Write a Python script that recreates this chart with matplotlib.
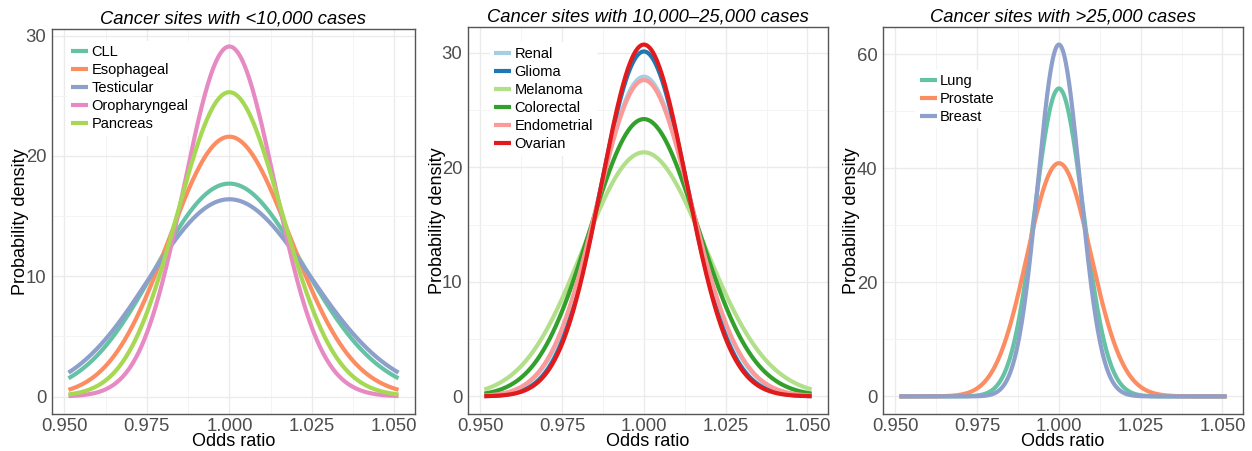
import numpy as np
import matplotlib.pyplot as plt
from matplotlib.ticker import MultipleLocator

plt.rcParams['font.family'] = ['Liberation Sans', 'DejaVu Sans']

# peak probability density of each site (density of log odds ratio, centred on OR = 1)
sites_small = ["CLL", "Esophageal", "Testicular", "Oropharyngeal", "Pancreas"]
peaks_small = [17.7, 21.6, 16.4, 29.1, 25.3]
colors_small = ["#66C2A5", "#FC8D62", "#8DA0CB", "#E78AC3", "#A6D854"]

sites_mid = ["Renal", "Glioma", "Melanoma", "Colorectal", "Endometrial", "Ovarian"]
peaks_mid = [27.9, 30.1, 21.3, 24.2, 27.6, 30.7]
colors_mid = ["#A6CEE3", "#1F78B4", "#B2DF8A", "#33A02C", "#FB9A99", "#E31A1C"]

sites_large = ["Lung", "Prostate", "Breast"]
peaks_large = [54.0, 40.9, 61.7]
colors_large = ["#66C2A5", "#FC8D62", "#8DA0CB"]

titles = ["Cancer sites with <10,000 cases",
          "Cancer sites with 10,000\u201325,000 cases",
          "Cancer sites with >25,000 cases"]
xticks = [0.950, 0.975, 1.000, 1.025, 1.050]

log_or = np.linspace(-0.05, 0.05, 600)
odds = np.exp(log_or)


def density(peak):
    sd = 1 / (peak * np.sqrt(2 * np.pi))
    return peak * np.exp(-0.5 * (log_or / sd) ** 2)


fig = plt.figure(figsize=(12.52, 4.51), dpi=100)
W, H = 1252, 451
boxes = [(52, 29, 415, 414), (468, 27, 828, 414), (883, 27, 1243, 414)]
groups = [(sites_small, peaks_small, colors_small, 10, 5, (0.04, 0.97)),
          (sites_mid, peaks_mid, colors_mid, 10, 5, (0.06, 0.96)),
          (sites_large, peaks_large, colors_large, 20, 10, (0.09, 0.89))]

for box, grp, title in zip(boxes, groups, titles):
    l, t, r, b = box
    ax = fig.add_axes([l / W, 1 - b / H, (r - l) / W, (b - t) / H])
    names, peaks, cols, major, minor, legpos = grp
    ymax = 0
    for name, pk, c in zip(names, peaks, cols):
        y = density(pk)
        ax.plot(odds, y, color=c, lw=3, label=name, solid_capstyle='butt')
        ymax = max(ymax, y.max())
    rng = ymax
    ax.set_ylim(-0.05 * rng, ymax + 0.05 * rng)
    ax.set_xlim(odds[0] - 0.005, odds[-1] + 0.005)
    ax.set_xticks(xticks)
    ax.set_xticklabels([f"{v:.3f}" for v in xticks])
    ax.xaxis.set_minor_locator(MultipleLocator(0.0125))
    ax.yaxis.set_major_locator(MultipleLocator(major))
    ax.yaxis.set_minor_locator(MultipleLocator(minor))
    ax.grid(which='major', color='#EBEBEB', lw=1.0)
    ax.grid(which='minor', color='#F3F3F3', lw=0.6)
    ax.set_axisbelow(True)
    ax.tick_params(which='both', length=0, labelsize=13.3, labelcolor='#4D4D4D')
    ax.tick_params(axis='x', pad=3)
    ax.tick_params(axis='y', pad=4)
    for s in ax.spines.values():
        s.set_color('#555555')
        s.set_linewidth(1.0)
    ax.set_title(title, fontsize=13.2, style='italic', pad=4)
    ax.set_xlabel("Odds ratio", fontsize=13)
    ax.set_ylabel("Probability density", fontsize=13)
    ax.xaxis.set_label_coords(0.5, -27 / (b - t))
    ax.xaxis.label.set_va('center')
    ax.yaxis.set_label_coords(-31 / (r - l), 0.5)
    ax.yaxis.label.set_va('center')
    ax.legend(loc='upper left', bbox_to_anchor=legpos, frameon=True,
              facecolor='white', edgecolor='none', framealpha=1,
              fontsize=10.5, handlelength=1.2, handletextpad=0.2,
              labelspacing=0.28, borderpad=0.3, borderaxespad=0)

fig.savefig("out.png", dpi=100)
